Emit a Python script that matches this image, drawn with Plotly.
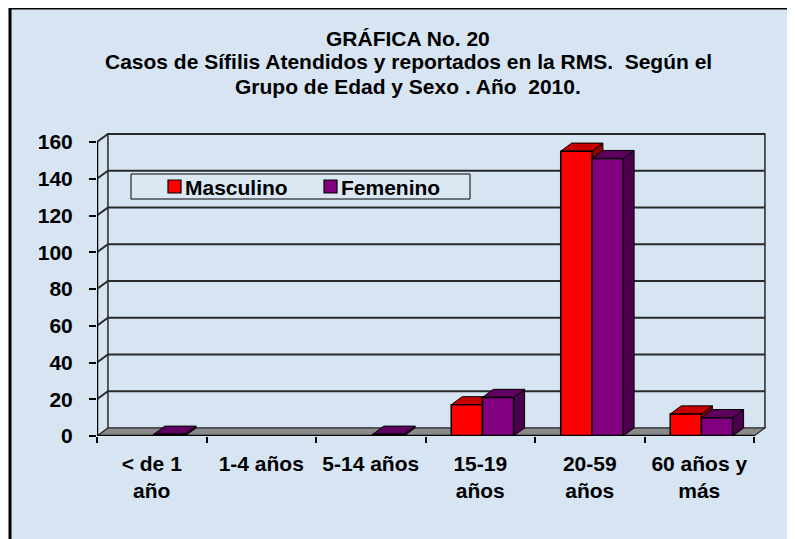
import plotly.graph_objects as go

# ---------------- data ----------------
categories = ["< de 1 año", "1-4 años", "5-14 años", "15-19 años", "20-59 años", "60 años y más"]
tick_labels = ["&lt; de 1<br>año", "1-4 años", "5-14 años", "15-19<br>años", "20-59<br>años", "60 años y<br>más"]
series_names = ["Masculino", "Femenino"]
masculino = [0, 0, 0, 17, 155, 12]
femenino = [1, 0, 1, 21, 151, 10]
y_ticks = [0, 20, 40, 60, 80, 100, 120, 140, 160]
title_lines = ["GRÁFICA No. 20",
               "Casos de Sífilis Atendidos y reportados en la RMS.  Según el",
               "Grupo de Edad y Sexo . Año  2010."]

# ---------------- style ----------------
PAGE_OFF = 8                      # default body margin of the html page
W, H = 795 - PAGE_OFF, 539 - PAGE_OFF
PL, PR, PT, PB = 97, 768, 133, 436   # plot area in page pixels
L, R, T, B = PL - PAGE_OFF, PR - PAGE_OFF, PT - PAGE_OFF, PB - PAGE_OFF
FONT = "Liberation Sans, Arial, sans-serif"
BG = "#d7e5f3"
RED, RED_TOP, RED_SIDE = "#ff0000", "#c80000", "#8f0000"
PUR, PUR_TOP, PUR_SIDE = "#800080", "#5e005e", "#4a004a"


def px_x(p):  # page pixel -> paper x
    return (p - PL) / (PR - PL)


def px_y(p):  # page pixel -> paper y
    return (PB - p) / (PB - PT)


n = len(categories)
ymax = 160
px_per_unit = (436 - 142) / ymax
yrange_top = (PB - PT) / px_per_unit
dx = 0.10      # 3D depth offset (category units)
dy = 4.4       # 3D depth offset (value units)
bw = 0.285     # bar width
shift = 0.02
x_left, x_right = -0.5, n - 0.5
xrange_right = x_left + (PR - PL) / ((754 - 97) / n)

fig = go.Figure()
fig.add_trace(go.Bar(x=categories, y=masculino, name=series_names[0],
                     marker=dict(color=RED, line=dict(color="black", width=1.5)),
                     width=bw, offset=-bw + shift))
fig.add_trace(go.Bar(x=categories, y=femenino, name=series_names[1],
                     marker=dict(color=PUR, line=dict(color="black", width=1.5)),
                     width=bw, offset=shift))

shapes = []
annotations = []
# chart background and frame
fx0, fy1 = px_x(10), px_y(8)
fxr, fyb = px_x(800), px_y(545)
shapes.append(dict(type="rect", xref="paper", yref="paper", x0=fx0, x1=fxr, y0=fyb, y1=fy1,
                   fillcolor=BG, line=dict(width=0), layer="below"))
shapes.append(dict(type="line", xref="paper", yref="paper", x0=fx0, x1=fx0, y0=fyb, y1=fy1,
                   line=dict(color="black", width=3), layer="above"))
shapes.append(dict(type="line", xref="paper", yref="paper", x0=fx0, x1=fxr, y0=fy1, y1=fy1,
                   line=dict(color="black", width=3), layer="above"))

# floor
shapes.append(dict(type="path", xref="x", yref="y", layer="below",
                   path=f"M {x_left},0 L {x_right},0 L {x_right+dx},{dy} L {x_left+dx},{dy} Z",
                   fillcolor="#8a8a8a", line=dict(color="#222", width=1.2)))
# gridlines on back wall (with short diagonal on left wall)
for v in y_ticks[1:]:
    shapes.append(dict(type="path", xref="x", yref="y", layer="below",
                       path=f"M {x_left},{v} L {x_left+dx},{v+dy} L {x_right+dx},{v+dy}",
                       line=dict(color="#2a2a2a", width=2)))
# back wall edges
shapes.append(dict(type="path", xref="x", yref="y", layer="below",
                   path=f"M {x_left+dx},{dy} L {x_left+dx},{ymax+dy} L {x_right+dx},{ymax+dy} L {x_right+dx},{dy}",
                   line=dict(color="#2a2a2a", width=1.5)))
# front axis lines
shapes.append(dict(type="path", xref="x", yref="y", layer="above",
                   path=f"M {x_left},{ymax} L {x_left},0 L {x_right},0",
                   line=dict(color="black", width=2.5)))

# 3D faces of bars
for vals, off, top_c, side_c in [(masculino, -bw + shift, RED_TOP, RED_SIDE),
                                 (femenino, shift, PUR_TOP, PUR_SIDE)]:
    for i, v in enumerate(vals):
        if v <= 0:
            continue
        x0 = i + off
        x1 = x0 + bw
        shapes.append(dict(type="path", xref="x", yref="y", layer="between",
                           path=f"M {x1},0 L {x1},{v} L {x1+dx},{v+dy} L {x1+dx},{dy} Z",
                           fillcolor=side_c, line=dict(color="black", width=1)))
        shapes.append(dict(type="path", xref="x", yref="y", layer="between",
                           path=f"M {x0},{v} L {x0+dx},{v+dy} L {x1+dx},{v+dy} L {x1},{v} Z",
                           fillcolor=top_c, line=dict(color="black", width=1)))

# legend box
shapes.append(dict(type="rect", xref="paper", yref="paper",
                   x0=px_x(131), x1=px_x(470), y0=px_y(199), y1=px_y(174),
                   fillcolor="rgba(255,255,255,0.12)", line=dict(color="black", width=1),
                   layer="above"))
for name, color, sx in [(series_names[0], RED, 168), (series_names[1], PUR, 324)]:
    shapes.append(dict(type="rect", xref="paper", yref="paper",
                       x0=px_x(sx), x1=px_x(sx + 13), y0=px_y(193), y1=px_y(180),
                       fillcolor=color, line=dict(color="black", width=1.2), layer="above"))
    annotations.append(dict(text=name, xref="paper", yref="paper",
                            x=px_x(sx + 15), y=px_y(187), xanchor="left", yanchor="middle",
                            showarrow=False,
                            font=dict(family=FONT, size=21, color="black", weight="bold")))

# title
for line, cy in zip(title_lines, [38, 62, 86]):
    annotations.append(dict(text=line, xref="paper", yref="paper",
                            x=px_x(408), y=px_y(cy), xanchor="center", yanchor="middle",
                            showarrow=False,
                            font=dict(family=FONT, size=21, color="black", weight="bold")))

fig.update_layout(
    width=W, height=H,
    margin=dict(l=L, r=W - R, t=T, b=H - B, pad=0, autoexpand=False),
    paper_bgcolor="white",
    plot_bgcolor="rgba(0,0,0,0)",
    font=dict(family=FONT, size=21, color="black", weight="bold"),
    showlegend=False,
    annotations=annotations,
    shapes=shapes,
)
fig.update_xaxes(type="category", range=[x_left, xrange_right], automargin=False,
                 tickvals=categories, ticktext=tick_labels,
                 showgrid=False, zeroline=False, showline=False,
                 ticks="outside", tickson="boundaries", ticklen=6, tickwidth=1.5, tickcolor="black",
                 ticklabelstandoff=13,
                 tickfont=dict(family=FONT, size=21, color="black", weight="bold"))
fig.update_yaxes(range=[0, yrange_top], tickvals=y_ticks, automargin=False,
                 showgrid=False, zeroline=False, showline=False,
                 ticks="outside", ticklen=7, tickwidth=1.5, tickcolor="black",
                 ticklabelstandoff=12,
                 tickfont=dict(family=FONT, size=21, color="black", weight="bold"))

fig.write_html("out.html")
